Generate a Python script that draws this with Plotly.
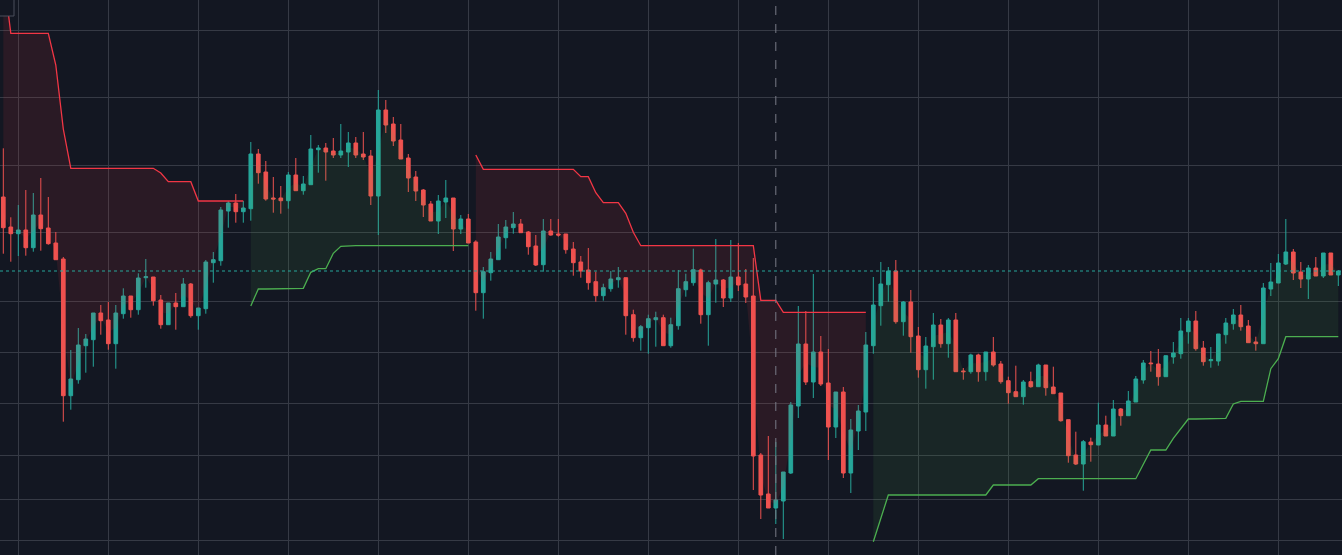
import plotly.graph_objects as go

# OHLC (arbitrary price units, higher = up)
opens = [403, 373, 366.3, 370, 352.3, 385, 372, 357, 341, 204.3,
         220.3, 254.3, 260.3, 287, 280, 256.3, 286.3, 304, 290.3, 322.3,
         323, 300, 275.3, 297, 293.3, 316, 284.3, 291.3, 337.3, 339.3,
         389, 397, 388.3, 391.3, 446, 428, 402, 402, 399.3, 425,
         409.3, 415.3, 450.3, 452, 449, 445, 448, 457, 446, 444,
         404, 490, 476, 460, 442, 423, 410, 396, 379, 398,
         402, 371, 381, 358, 307.3, 327.3, 340.3, 362.3, 372.3, 376,
         368, 354, 335.3, 369, 366, 366, 351, 338, 330, 318.3,
         304.3, 311.3, 320.3, 322.3, 285.3, 262.3, 272.3, 280.3, 282.3, 254.3,
         274.3, 310.3, 317.3, 330, 285.3, 316, 320, 302, 323, 316,
         304, 145, 106, 92, 99, 127, 194, 256, 218, 248,
         217, 173, 208, 127, 169, 188, 254.3, 294.3, 315.3, 329,
         278.3, 298, 264, 230.3, 253.3, 275, 256.3, 280, 229, 228.3,
         245, 228.3, 248, 236, 219.3, 208.3, 203.3, 218.3, 213.3, 235,
         213, 207, 180.3, 145, 136, 158, 155, 175, 164, 191,
         184.3, 198, 220, 237, 236, 223.3, 243, 246.3, 268.3, 279,
         252, 239.3, 239, 265.3, 276.3, 285, 274, 258, 256.3, 311,
         317, 336, 348, 328, 321, 332, 324, 347, 325]

highs = [451.7, 382.7, 395, 410, 407, 422, 403, 368, 343, 250,
         272, 266, 287, 295, 298, 295, 311.7, 304, 326.7, 341,
         323, 305, 297, 307, 322, 317, 292, 340, 348, 393,
         399, 406, 399, 458, 451, 439, 423, 414, 428, 442,
         424, 465, 455, 457, 462, 476, 468, 463, 468, 450,
         510, 500, 483, 476, 446, 429, 411, 399, 405, 420,
         402, 385, 386, 359.7, 333, 348, 376, 380, 388, 381,
         369, 365, 381, 381, 381, 366, 358, 344, 352, 328.3,
         316.3, 329, 333, 322.3, 290.3, 275, 285.3, 288.3, 285.3, 282.3,
         330, 326.3, 351.3, 331.3, 319.3, 361, 321, 360, 357, 331,
         342, 147, 164, 158, 128, 198, 294, 289, 326, 264,
         251, 208, 213, 181, 195, 268, 323, 338, 333, 340,
         299, 310, 273, 263, 287, 281, 282, 287, 232, 246.3,
         246.3, 248, 263, 239, 223.3, 234.3, 220, 228.3, 236.3, 235,
         233.3, 207, 180.3, 168.3, 160, 162.3, 197.3, 184.3, 200, 192,
         209, 224, 240, 249, 251, 244.3, 258, 282, 282, 289,
         259, 253, 266, 282, 291, 295, 280, 263.3, 317, 337,
         346, 381, 351, 338, 335, 343, 347, 347, 330]

lows = [346.3, 338.3, 344, 344.3, 348.3, 349.3, 355.3, 340.3, 178.3, 190.3,
        216.3, 227.3, 233.3, 265.3, 250.3, 231.3, 281.3, 282.3, 285.3, 312.3,
        294.3, 271.3, 275.3, 270.3, 293.3, 282.3, 270.3, 286.3, 317.3, 334.3,
        372.3, 377.3, 377.3, 379.3, 416.3, 399.3, 387.3, 386.3, 391.3, 409.3,
        405.3, 415.3, 427.3, 419.3, 442, 442, 433, 442, 440, 395,
        365, 467, 454, 441, 408, 399, 383, 379, 366, 382,
        349, 366, 357, 289.3, 281.3, 319.3, 340.3, 351.3, 366.3, 367.3,
        345.3, 334, 328.3, 364.3, 363.3, 346.3, 324.3, 322.3, 310.3, 298.3,
        299.3, 308.3, 312.3, 265.3, 258.3, 249.3, 246.3, 253.3, 254.3, 252.3,
        270.3, 303.3, 314.3, 276.3, 254.3, 297.3, 293, 298, 309, 297,
        110, 81, 92, 76, 61, 126, 182, 215, 202, 214,
        140, 162, 122, 107, 150, 169, 246.3, 274.3, 298.3, 276.3,
        264.3, 247.3, 222.3, 211.3, 220.3, 252.3, 242.3, 228.3, 220.3, 226.3,
        218.3, 219.3, 233.3, 216.3, 196.3, 203.3, 195.3, 212.3, 213.3, 204.3,
        206.3, 178.3, 137.3, 135, 109.3, 138.3, 155, 164, 164, 174.3,
        184.3, 198, 216.3, 228.3, 214.3, 223.3, 236.3, 241.3, 256.3, 249.3,
        234.3, 232.3, 234.3, 256.3, 270.3, 269.3, 257.3, 249.3, 256.3, 304,
        317, 335, 320, 312, 301, 324, 322, 325, 314]

closes = [372.3, 366.3, 370, 352.3, 385, 371.3, 356.3, 340.3, 204.3, 221,
          255, 261, 287, 279.3, 256.3, 287, 304, 290.3, 322, 323.3,
          299.3, 275.3, 297, 293.3, 316, 284.3, 292, 338, 340.3, 390,
          397, 388.3, 392, 446, 427.3, 401, 401, 399.3, 425, 409.3,
          416, 451, 452, 448, 445, 449, 457, 445, 443, 404,
          490, 475, 459, 441, 422, 409, 395, 379, 399, 402,
          371, 381, 357, 307.3, 328.3, 341, 363, 373, 376, 367.3,
          353.3, 335, 369, 365, 365, 350.3, 337.3, 329, 317.3, 304.3,
          312.3, 321, 322.3, 284.3, 262.3, 273.3, 281.3, 282.3, 254.3, 275.3,
          311.3, 318.3, 330.3, 285.3, 317.3, 320, 302, 323, 315, 303,
          144, 105, 92, 100, 128, 195, 256, 218, 248, 216,
          173, 208, 127, 170, 189, 255, 295, 316, 329, 278.3,
          298, 263.3, 230.3, 254, 275, 256.3, 280, 228.3, 228.3, 245,
          228.3, 248, 235, 218.3, 207.3, 203.3, 218, 213.3, 235, 212.3,
          206.3, 179.3, 144.3, 136, 158.3, 155.3, 175, 164, 191, 184.3,
          199, 221, 237, 236.3, 223.3, 244.3, 247, 269, 279, 251.3,
          238.3, 240.3, 266, 277, 285, 273.3, 257.3, 256.3, 312, 318,
          337, 348, 327, 321, 332, 324, 347, 325, 329]

# supertrend level per candle
supertrend = [627, 566.7, 566.7, 566.7, 566.7, 566.7, 566.7, 535, 471, 431.7,
              431.7, 431.7, 431.7, 431.7, 431.7, 431.7, 431.7, 431.7, 431.7, 431.7,
              431.7, 427, 418.3, 418.3, 418.3, 418.3, 399, 399, 399, 399,
              399, 399, 399, 294, 311, 311, 311, 311, 311, 311,
              311.7, 327.7, 331.3, 331.3, 346.7, 353.7, 354.3, 354.3, 354.3, 354.3,
              354.3, 354.3, 354.3, 354.3, 354.3, 354.3, 354.3, 354.3, 354.3, 354.3,
              354.3, 354.3, 354.3, 445, 430.7, 430.7, 430.7, 430.7, 430.7, 430.7,
              430.7, 430.7, 430.7, 430.7, 430.7, 430.7, 430.7, 423.3, 423.3, 407.3,
              397.3, 397.3, 397.3, 386.7, 367.7, 354.3, 354.3, 354.3, 354.3, 354.3,
              354.3, 354.3, 354.3, 354.3, 354.3, 354.3, 354.3, 354.3, 354.3, 354.3,
              354.3, 299.7, 299.7, 299.7, 287.7, 287.7, 287.7, 287.7, 287.7, 287.7,
              287.7, 287.7, 287.7, 287.7, 287.7, 287.7, 58.3, 82, 105, 105,
              105, 105, 105, 105, 105, 105, 105, 105, 105, 105,
              105, 105, 115, 115, 115, 115, 115, 115, 121.3, 121.3,
              121.3, 121.3, 121.3, 121.3, 121.3, 121.3, 121.3, 121.3, 121.3, 121.3,
              121.3, 121.3, 135.7, 150, 150, 150, 161.7, 171.7, 181, 181,
              181, 181, 181, 181.7, 196, 198.7, 198.7, 198.7, 198.7, 231.3,
              241.3, 263.3, 263.3, 263.3, 263.3, 263.3, 263.3, 263.3, 263.3]

# candle indices where the trend flips (starts in a downtrend)
trend_flips = [33, 63, 116]
first_trend = -1

x_grid = [2, 14, 26, 38, 50, 62, 74, 86, 98, 110, 122, 134, 146, 158, 170]
y_grid = [569.7, 502.7, 434.7, 367.7, 298.7, 247.7, 196.7, 144.7, 100.7, 59.7]
crosshair_x = 103

bg = "#131722"
up_col = "#26a69a"
down_col = "#ef5350"

n = len(opens)
idx = list(range(n))

bounds = [0] + trend_flips + [n]
fig = go.Figure()
d = first_trend
for a, b in zip(bounds[:-1], bounds[1:]):
    xs = idx[a:b]
    mid = [(opens[i] + closes[i]) / 2 for i in xs]
    if d > 0:
        lc, fc = "#4caf50", "rgba(76,175,80,0.10)"
    else:
        lc, fc = "#f23645", "rgba(242,54,69,0.10)"
    fig.add_trace(go.Scatter(x=xs, y=mid, mode="lines", line=dict(width=0),
                             hoverinfo="skip", showlegend=False))
    fig.add_trace(go.Scatter(x=xs, y=supertrend[a:b], mode="lines",
                             line=dict(color=lc, width=1.3), fill="tonexty",
                             fillcolor=fc, hoverinfo="skip", showlegend=False))
    d = -d

fig.add_trace(go.Candlestick(
    x=idx, open=opens, high=highs, low=lows, close=closes,
    increasing=dict(line=dict(color=up_col, width=1), fillcolor=up_col),
    decreasing=dict(line=dict(color=down_col, width=1), fillcolor=down_col),
    whiskerwidth=0, showlegend=False, hoverinfo="skip"))

fig.update_layout(
    width=1342, height=555,
    margin=dict(l=0, r=0, t=0, b=0),
    paper_bgcolor=bg, plot_bgcolor=bg,
    showlegend=False,
    xaxis=dict(range=[-0.44, 178.49], tickvals=x_grid, showticklabels=False,
               showgrid=True, gridcolor="#363a45", gridwidth=1, zeroline=False,
               rangeslider=dict(visible=False), fixedrange=True),
    yaxis=dict(range=[45, 600], tickvals=y_grid, showticklabels=False,
               showgrid=True, gridcolor="#363a45", gridwidth=1, zeroline=False,
               fixedrange=True),
    shapes=[
        dict(type="line", xref="x", yref="paper", x0=crosshair_x, x1=crosshair_x,
             y0=0, y1=1, line=dict(color="#787b86", width=1, dash="dash")),
        dict(type="line", xref="paper", yref="y", x0=0, x1=1, y0=closes[-1], y1=closes[-1],
             line=dict(color=up_col, width=1, dash="dot")),
        dict(type="rect", xref="paper", yref="paper", x0=-0.01, x1=14 / 1342,
             y0=1 - 16 / 555, y1=1.02, line=dict(color="#4a4e5a", width=1),
             fillcolor=bg),
    ],
)

fig.write_html("out.html", config={"displayModeBar": False},
               post_script="document.body.style.margin='0';document.body.style.background='#131722';")
